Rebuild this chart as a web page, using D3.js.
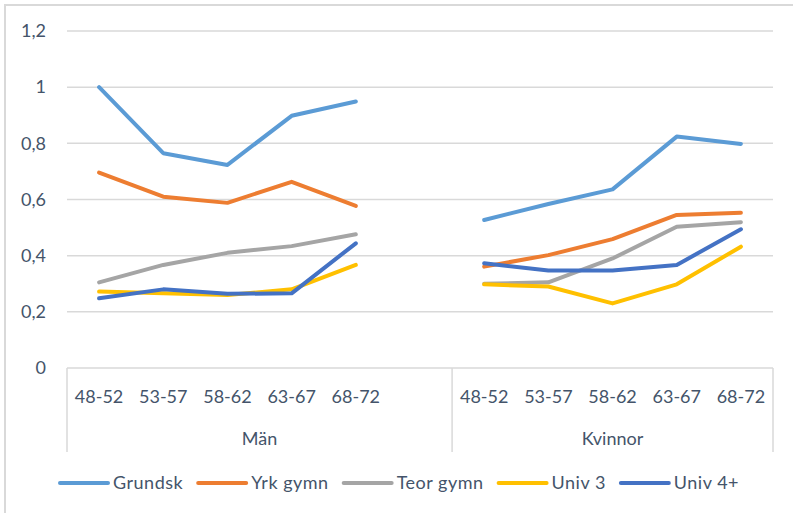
<!DOCTYPE html>
<html>
<head>
<meta charset="utf-8">
<script src="https://cdn.jsdelivr.net/npm/d3@7"></script>
<style>
  body { margin: 0; background: #fff; }
  text { font-family: Lato, "Open Sans", sans-serif; fill: #44546a; }
</style>
</head>
<body>
<div class="canvas"></div>
<script>
// values
var groups = ['Män', 'Kvinnor'];
var periods = ['48-52', '53-57', '58-62', '63-67', '68-72'];
var seriesNames = ['Grundsk', 'Yrk gymn', 'Teor gymn', 'Univ 3', 'Univ 4+'];
var colors = ['#5b9bd5', '#ed7d31', '#a5a5a5', '#ffc000', '#4472c4'];
var yTicks = [0, 0.2, 0.4, 0.6, 0.8, 1, 1.2];

var manValues = [
	[1.0, 0.765, 0.723, 0.898, 0.949],   // Grundsk
	[0.696, 0.61, 0.588, 0.663, 0.577],  // Yrk gymn
	[0.305, 0.367, 0.41, 0.434, 0.476],  // Teor gymn
	[0.272, 0.266, 0.26, 0.28, 0.367],   // Univ 3
	[0.248, 0.28, 0.264, 0.266, 0.444]   // Univ 4+
];
var kvinnorValues = [
	[0.527, 0.584, 0.636, 0.824, 0.798],
	[0.361, 0.402, 0.459, 0.545, 0.553],
	[0.3, 0.305, 0.39, 0.503, 0.519],
	[0.298, 0.29, 0.23, 0.298, 0.432],
	[0.373, 0.347, 0.347, 0.367, 0.494]
];

var width = 793, height = 513;
var svg = d3.select('.canvas').append('svg')
	.attr('width', width).attr('height', height);

// outer chart frame
svg.append('rect')
	.attr('x', 5).attr('y', 5)
	.attr('width', width + 10).attr('height', height + 10)
	.attr('fill', 'none').attr('stroke', '#d9d9d9').attr('stroke-width', 2);

var plotLeft = 67, plotRight = 773, plotTop = 31, plotBottom = 368;

// 11 slots: 5 Män, one empty slot, 5 Kvinnor
var slots = [];
periods.forEach(function(p) { slots.push('M' + p); });
slots.push('gap');
periods.forEach(function(p) { slots.push('K' + p); });

var x = d3.scaleBand().domain(slots).range([plotLeft, plotRight]);
var y = d3.scaleLinear().domain([0, 1.2]).range([plotBottom, plotTop]);

// gridlines
svg.append('g').selectAll('line')
	.data(yTicks.filter(function(t) { return t > 0; }))
	.enter().append('line')
	.attr('x1', plotLeft).attr('x2', plotRight)
	.attr('y1', function(d) { return y(d); })
	.attr('y2', function(d) { return y(d); })
	.attr('stroke', '#d9d9d9').attr('stroke-width', 1.5);

// y labels
var fmt = function(d) { return String(d).replace('.', ','); };
svg.append('g').selectAll('text')
	.data(yTicks)
	.enter().append('text')
	.attr('x', 46)
	.attr('y', function(d) { return y(d); })
	.attr('dy', '0.35em')
	.attr('text-anchor', 'end')
	.style('font-size', '18px')
	.text(fmt);

// x axis line and group separators
svg.append('line')
	.attr('x1', plotLeft).attr('x2', plotRight)
	.attr('y1', plotBottom).attr('y2', plotBottom)
	.attr('stroke', '#d9d9d9').attr('stroke-width', 1.5);
var sepX = [plotLeft, x('K48-52'), plotRight];
svg.append('g').selectAll('line')
	.data(sepX)
	.enter().append('line')
	.attr('x1', function(d) { return d; }).attr('x2', function(d) { return d; })
	.attr('y1', plotBottom).attr('y2', 452)
	.attr('stroke', '#d9d9d9').attr('stroke-width', 1.5);

// category labels
var catLabels = svg.append('g');
groups.forEach(function(g, gi) {
	var pre = gi === 0 ? 'M' : 'K';
	periods.forEach(function(p) {
		catLabels.append('text')
			.attr('x', x(pre + p) + x.bandwidth() / 2)
			.attr('y', 403)
			.attr('text-anchor', 'middle')
			.style('font-size', '18px')
			.text(p);
	});
	var gx0 = gi === 0 ? plotLeft : x('K48-52');
	var gx1 = gi === 0 ? x('K48-52') : plotRight;
	catLabels.append('text')
		.attr('x', (gx0 + gx1) / 2)
		.attr('y', 445)
		.attr('text-anchor', 'middle')
		.style('font-size', '18px')
		.text(g);
});

// lines
var line = d3.line()
	.x(function(d) { return x(d.slot) + x.bandwidth() / 2; })
	.y(function(d) { return y(d.v); });

seriesNames.forEach(function(name, si) {
	[['M', manValues], ['K', kvinnorValues]].forEach(function(g) {
		var pts = periods.map(function(p, i) { return { slot: g[0] + p, v: g[1][si][i] }; });
		svg.append('path')
			.datum(pts)
			.attr('d', line)
			.attr('fill', 'none')
			.attr('stroke', colors[si])
			.attr('stroke-width', 4)
			.attr('stroke-linecap', 'round')
			.attr('stroke-linejoin', 'round');
	});
});

// legend
var legend = svg.append('g');
var lx = 60, ly = 483;
seriesNames.forEach(function(name, si) {
	legend.append('line')
		.attr('x1', lx).attr('x2', lx + 48)
		.attr('y1', ly).attr('y2', ly)
		.attr('stroke', colors[si]).attr('stroke-width', 4)
		.attr('stroke-linecap', 'round');
	var t = legend.append('text')
		.attr('x', lx + 53)
		.attr('y', ly)
		.attr('dy', '0.35em')
		.style('font-size', '18px')
		.style('letter-spacing', '0.5px')
		.text(name);
	lx += 53 + t.node().getComputedTextLength() + 15;
});
</script>
</body>
</html>
